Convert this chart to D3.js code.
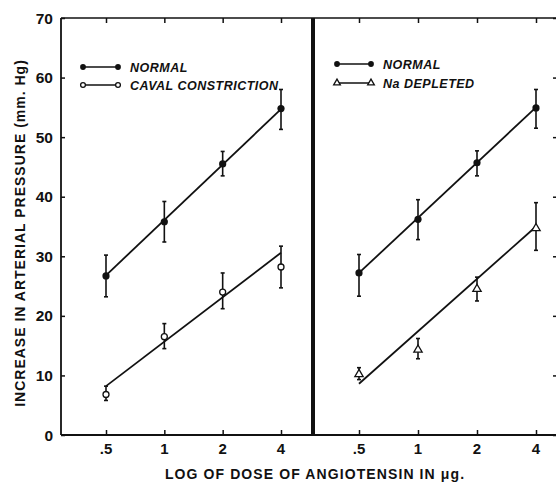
<!DOCTYPE html>
<html><head><meta charset="utf-8">
<script src="https://cdn.jsdelivr.net/npm/d3@7"></script>
<style>
html,body{margin:0;padding:0;background:#fff;}
svg{display:block;}
text{font-family:"Liberation Sans",Arial,sans-serif;fill:#111;}
</style></head>
<body><svg id="c" width="556" height="482"></svg>
<script>
// ---- data ----
const doses = [0.5, 1, 2, 4];
const doseLabels = [".5", "1", "2", "4"];
const yTicks = [0, 10, 20, 30, 40, 50, 60, 70];
const fitDoses = [0.5, 4];

const leftNormal = [26.7, 35.8, 45.5, 54.8];
const leftNormalLow = [23.2, 32.4, 43.5, 51.3];
const leftNormalHigh = [30.2, 39.2, 47.6, 58.0];
const leftNormalFit = [26.8, 54.7];

const caval = [6.8, 16.5, 24.0, 28.2];
const cavalLow = [5.8, 14.5, 21.2, 24.7];
const cavalHigh = [8.2, 18.7, 27.2, 31.7];
const cavalFit = [8.2, 30.6];

const rightNormal = [27.2, 36.2, 45.7, 54.9];
const rightNormalLow = [23.3, 32.8, 43.5, 51.5];
const rightNormalHigh = [30.3, 39.5, 47.7, 58.0];
const rightNormalFit = [27.2, 55.0];

const naDepleted = [10.2, 14.3, 24.5, 34.7];
const naDepletedLow = [9.3, 12.8, 22.5, 31.0];
const naDepletedHigh = [11.3, 16.2, 26.5, 39.0];
const naDepletedFit = [8.6, 35.0];

// ---- layout ----
const svg = d3.select("#c");
const X0 = 61, XDIV = 313, X1 = 557, YT = 18, YB = 435;
const y = d3.scaleLinear().domain([0, 70]).range([YB, YT]);
const xL = d3.scaleLog().base(2).domain([0.5, 4]).range([106, 281]);
const xR = d3.scaleLog().base(2).domain([0.5, 4]).range([359, 536]);

const ink = "#111";
// frame
svg.append("line").attr("x1", X0).attr("x2", X1).attr("y1", YT).attr("y2", YT).attr("stroke", ink).attr("stroke-width", 1.6);
svg.append("line").attr("x1", X0).attr("x2", X1).attr("y1", YB).attr("y2", YB).attr("stroke", ink).attr("stroke-width", 1.8);
svg.append("line").attr("x1", X0).attr("x2", X0).attr("y1", YT).attr("y2", YB).attr("stroke", ink).attr("stroke-width", 1.8);
svg.append("line").attr("x1", XDIV).attr("x2", XDIV).attr("y1", YT).attr("y2", YB).attr("stroke", ink).attr("stroke-width", 4);

// y axis (inward ticks)
const yAx = d3.axisRight(y).tickValues(yTicks).tickSize(4).tickFormat("");
const gy = svg.append("g").attr("transform", `translate(${X0},0)`).call(yAx);
gy.select(".domain").remove();
gy.selectAll("line").attr("stroke", ink).attr("stroke-width", 1.5);
svg.append("g").selectAll("text").data(yTicks).join("text")
  .attr("x", 53).attr("y", d => y(d)).attr("dy", "0.36em")
  .attr("text-anchor", "end").attr("font-size", 15.5).attr("font-weight", "bold")
  .text(d => d);
// right axis ticks
const yAxR = d3.axisLeft(y).tickValues(yTicks).tickSize(4).tickFormat("");
const gyr = svg.append("g").attr("transform", `translate(${X1},0)`).call(yAxR);
gyr.select(".domain").remove();
gyr.selectAll("line").attr("stroke", ink).attr("stroke-width", 1.5);

// x axes
[xL, xR].forEach(xs => {
  const b = svg.append("g").attr("transform", `translate(0,${YB})`)
    .call(d3.axisTop(xs).tickValues(doses).tickSize(5).tickFormat(""));
  b.select(".domain").remove();
  b.selectAll("line").attr("stroke", ink).attr("stroke-width", 1.5);
  const t = svg.append("g").attr("transform", `translate(0,${YT})`)
    .call(d3.axisBottom(xs).tickValues(doses).tickSize(5).tickFormat(""));
  t.select(".domain").remove();
  t.selectAll("line").attr("stroke", ink).attr("stroke-width", 1.5);
  svg.append("g").selectAll("text").data(doses).join("text")
    .attr("x", d => xs(d)).attr("y", 454)
    .attr("text-anchor", "middle").attr("font-size", 15).attr("font-weight", "bold")
    .text((d, i) => doseLabels[i]);
});

// titles
svg.append("text").attr("x", 315).attr("y", 479).attr("text-anchor", "middle")
  .attr("font-size", 14).attr("font-weight", "bold").attr("letter-spacing", 1.1)
  .text("LOG OF DOSE OF ANGIOTENSIN IN \u03BCg.");
svg.append("text").attr("transform", "translate(25,233) rotate(-90)").attr("text-anchor", "middle")
  .attr("font-size", 14).attr("font-weight", "bold").attr("letter-spacing", 1.0)
  .text("INCREASE IN ARTERIAL PRESSURE (mm. Hg)");

// series drawing
function drawSeries(xs, vals, lo, hi, fit, marker) {
  const g = svg.append("g");
  g.append("line").attr("x1", xs(fitDoses[0])).attr("y1", y(fit[0]))
    .attr("x2", xs(fitDoses[1])).attr("y2", y(fit[1]))
    .attr("stroke", ink).attr("stroke-width", 1.8);
  doses.forEach((d, i) => {
    const cx = xs(d);
    g.append("line").attr("x1", cx).attr("x2", cx).attr("y1", y(lo[i])).attr("y2", y(hi[i]))
      .attr("stroke", ink).attr("stroke-width", 1.6);
    [lo[i], hi[i]].forEach(v => g.append("line").attr("x1", cx - 2).attr("x2", cx + 2)
      .attr("y1", y(v)).attr("y2", y(v)).attr("stroke", ink).attr("stroke-width", 1.6));
    drawMarker(g, cx, y(vals[i]), marker, 1);
  });
}
function drawMarker(g, cx, cy, m, s) {
  if (m === "filled") g.append("circle").attr("cx", cx).attr("cy", cy).attr("r", 3.6 * s).attr("fill", ink);
  else if (m === "open") g.append("circle").attr("cx", cx).attr("cy", cy).attr("r", 3 * s).attr("fill", "#fff").attr("stroke", ink).attr("stroke-width", 1.3);
  else g.append("path").attr("d", d3.symbol(d3.symbolTriangle, 30 * s * s)()).attr("transform", `translate(${cx},${cy})`)
    .attr("fill", "#fff").attr("stroke", ink).attr("stroke-width", 1.3);
}
drawSeries(xL, leftNormal, leftNormalLow, leftNormalHigh, leftNormalFit, "filled");
drawSeries(xL, caval, cavalLow, cavalHigh, cavalFit, "open");
drawSeries(xR, rightNormal, rightNormalLow, rightNormalHigh, rightNormalFit, "filled");
drawSeries(xR, naDepleted, naDepletedLow, naDepletedHigh, naDepletedFit, "triangle");

// legends
function legend(x1, x2, yy, m, label) {
  const g = svg.append("g");
  g.append("line").attr("x1", x1).attr("x2", x2).attr("y1", yy).attr("y2", yy).attr("stroke", ink).attr("stroke-width", 1.6);
  drawMarker(g, x1, yy, m, 0.8); drawMarker(g, x2, yy, m, 0.8);
  g.append("text").attr("x", x2 + 12).attr("y", yy).attr("dy", "0.36em")
    .attr("font-size", 12.5).attr("font-weight", "bold").attr("font-style", "italic").attr("letter-spacing", 0.5)
    .text(label);
}
legend(83, 118, 67, "filled", "NORMAL");
legend(83, 118, 85, "open", "CAVAL CONSTRICTION");
legend(337, 371, 64, "filled", "NORMAL");
legend(337, 371, 83, "triangle", "Na DEPLETED");
</script></body></html>
